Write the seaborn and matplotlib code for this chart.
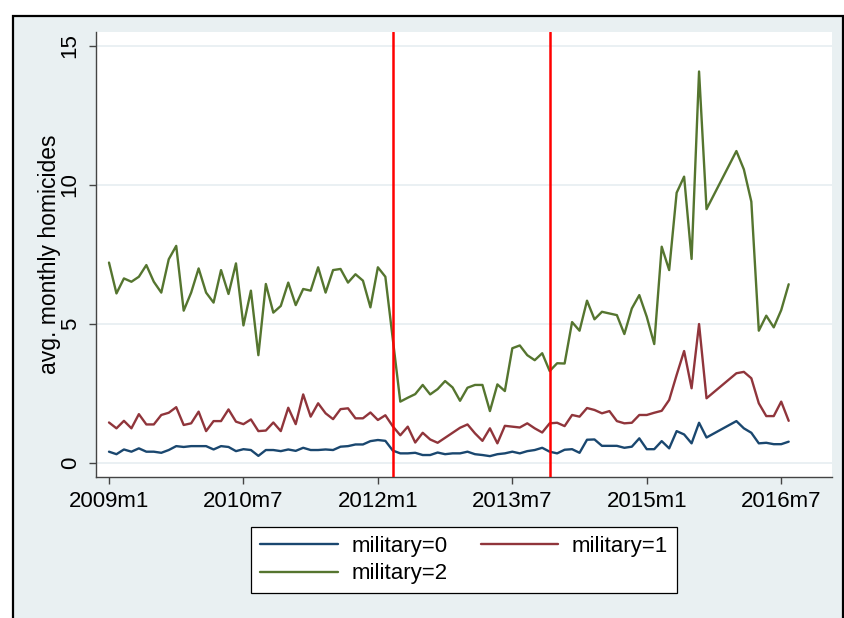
import numpy as np
import pandas as pd
import matplotlib
matplotlib.use("Agg")
import matplotlib.pyplot as plt
from matplotlib.patches import Rectangle
import seaborn as sns

# Monthly panel, 2009m1 .. 2016m8 (Oct-Dec 2015 not observed)
all_months = pd.period_range("2009-01", "2016-08", freq="M")
missing = [pd.Period("2015-10", "M"), pd.Period("2015-11", "M"), pd.Period("2015-12", "M")]
months = [p for p in all_months if p not in missing]

military_0 = [
    0.41, 0.32, 0.49, 0.41, 0.53, 0.41, 0.41, 0.37, 0.47, 0.61, 0.58, 0.61,
    0.61, 0.61, 0.49, 0.61, 0.58, 0.43, 0.50, 0.47, 0.26, 0.47, 0.47, 0.43,
    0.49, 0.44, 0.55, 0.47, 0.47, 0.49, 0.47, 0.59, 0.61, 0.67, 0.67, 0.79,
    0.83, 0.80, 0.45, 0.35, 0.35, 0.37, 0.29, 0.29, 0.38, 0.32, 0.35, 0.35,
    0.41, 0.32, 0.29, 0.25, 0.32, 0.35, 0.41, 0.35, 0.43, 0.47, 0.55, 0.41,
    0.35, 0.48, 0.50, 0.37, 0.84, 0.85, 0.62, 0.62, 0.62, 0.55, 0.59, 0.89,
    0.50, 0.50, 0.79, 0.53, 1.15, 1.03, 0.71, 1.45, 0.92,
    1.51, 1.25, 1.09, 0.71, 0.73, 0.68, 0.68, 0.77,
]
military_1 = [
    1.46, 1.25, 1.52, 1.25, 1.76, 1.39, 1.39, 1.73, 1.81, 2.01, 1.37, 1.43,
    1.85, 1.15, 1.51, 1.51, 1.93, 1.49, 1.40, 1.57, 1.15, 1.17, 1.46, 1.15,
    1.99, 1.40, 2.47, 1.67, 2.15, 1.79, 1.58, 1.94, 1.97, 1.61, 1.61, 1.82,
    1.55, 1.72, 1.32, 1.00, 1.31, 0.74, 1.09, 0.85, 0.73, 0.91, 1.09, 1.27,
    1.39, 1.07, 0.80, 1.25, 0.71, 1.34, 1.31, 1.28, 1.43, 1.25, 1.10, 1.43,
    1.45, 1.33, 1.73, 1.67, 1.98, 1.91, 1.79, 1.87, 1.51, 1.43, 1.45, 1.73,
    1.73, 1.81, 1.88, 2.27, 3.17, 4.03, 2.69, 5.00, 2.33,
    3.23, 3.28, 3.05, 2.15, 1.69, 1.69, 2.21, 1.52,
]
military_2 = [
    7.21, 6.10, 6.64, 6.52, 6.70, 7.12, 6.52, 6.13, 7.33, 7.81, 5.48, 6.13,
    7.00, 6.13, 5.77, 6.94, 6.08, 7.18, 4.95, 6.20, 3.88, 6.44, 5.41, 5.65,
    6.49, 5.68, 6.26, 6.20, 7.04, 6.13, 6.94, 6.98, 6.49, 6.79, 6.56, 5.60,
    7.04, 6.70, 4.45, 2.21, 2.35, 2.48, 2.81, 2.47, 2.66, 2.95, 2.72, 2.24,
    2.71, 2.81, 2.81, 1.87, 2.83, 2.59, 4.13, 4.23, 3.88, 3.70, 3.95, 3.31,
    3.59, 3.58, 5.07, 4.76, 5.84, 5.17, 5.44, 5.38, 5.32, 4.64, 5.56, 6.04,
    5.26, 4.28, 7.78, 6.94, 9.72, 10.30, 7.34, 14.08, 9.13,
    11.22, 10.56, 9.40, 4.76, 5.30, 4.88, 5.50, 6.43,
]

series_names = ["military=0", "military=1", "military=2"]
series_colors = ["#1a476f", "#90353b", "#55752f"]

# Reform dates marked on the chart
event_months = [pd.Period("2012-03", "M"), pd.Period("2013-12", "M")]

tick_labels = ["2009m1", "2010m7", "2012m1", "2013m7", "2015m1", "2016m7"]

base = pd.Period("2009-01", "M")


def month_num(p):
    return (p - base).n


t = [month_num(p) for p in months]
df = pd.concat(
    [
        pd.DataFrame({"t": t, "value": vals, "group": name})
        for name, vals in zip(series_names, [military_0, military_1, military_2])
    ],
    ignore_index=True,
)

sns.set_theme(style="white")
plt.rcParams["font.family"] = ["Liberation Sans", "DejaVu Sans"]
plt.rcParams["text.color"] = "black"
plt.rcParams["axes.labelcolor"] = "black"

W, H = 845, 618
fig = plt.figure(figsize=(W / 100, H / 100), dpi=100)
fig.patch.set_facecolor("white")

# Outer graph region (light blue-gray with black frame), drawn behind everything
bg = fig.add_axes([0, 0, 1, 1], zorder=-10)
bg.set_axis_off()
bg.set_xlim(0, W)
bg.set_ylim(H, 0)
bg.add_patch(Rectangle((13, 16), 843 - 13, H + 20 - 16, facecolor="#e9f0f2",
                       edgecolor="black", linewidth=1.6))

ax = fig.add_axes([96 / W, 1 - 477 / H, (832 - 96) / W, (477 - 32) / H], zorder=1)
ax.set_facecolor("white")

sns.lineplot(
    data=df, x="t", y="value", hue="group", palette=series_colors,
    linewidth=1.7, ax=ax, estimator=None, sort=True,
)

for p in event_months:
    ax.axvline(month_num(p), color="#ff0000", linewidth=1.8, zorder=5)

ax.set_xlim(-1.74, 96.8)
ax.set_ylim(-0.5, 15.5)

tick_pos = [month_num(pd.Period(lbl.replace("m", "-"), "M")) for lbl in tick_labels]
ax.set_xticks(tick_pos)
ax.set_xticklabels(tick_labels, fontsize=16)
ax.set_yticks([0, 5, 10, 15])
ax.set_yticklabels(["0", "5", "10", "15"], fontsize=16, rotation=90, va="center")

ax.grid(axis="y", color="#e6eef1", linewidth=1.2)
ax.grid(axis="x", visible=False)
for side in ["top", "right"]:
    ax.spines[side].set_visible(False)
for side in ["left", "bottom"]:
    ax.spines[side].set_color("#444444")
    ax.spines[side].set_linewidth(1.0)

ax.tick_params(axis="both", which="both", direction="out", length=5, width=1,
               color="#444444", labelcolor="black", bottom=True, left=True)
ax.tick_params(axis="x", pad=5)
ax.tick_params(axis="y", pad=6)

ax.set_xlabel("")
ax.set_ylabel("avg. monthly homicides", fontsize=16.5, labelpad=-1, color="black")

handles, labels = ax.get_legend_handles_labels()
if ax.legend_ is not None:
    ax.legend_.remove()
# column-major fill: rows read military=0, military=1 / military=2
order = [0, 2, 1]
leg = fig.legend(
    [handles[i] for i in order], [labels[i] for i in order], ncol=2, loc="center",
    bbox_to_anchor=(464 / W, 1 - 560 / H), frameon=True, fancybox=False,
    fontsize=16, handlelength=3.5, columnspacing=1.5, handletextpad=0.6,
    borderpad=0.4, labelspacing=0.3,
)
leg.get_frame().set_edgecolor("black")
leg.get_frame().set_linewidth(0.9)
leg.get_frame().set_facecolor("white")
leg.get_frame().set_alpha(1)
for line in leg.get_lines():
    line.set_linewidth(1.7)
for txt in leg.get_texts():
    txt.set_color("black")

fig.savefig("out.png", dpi=100)
